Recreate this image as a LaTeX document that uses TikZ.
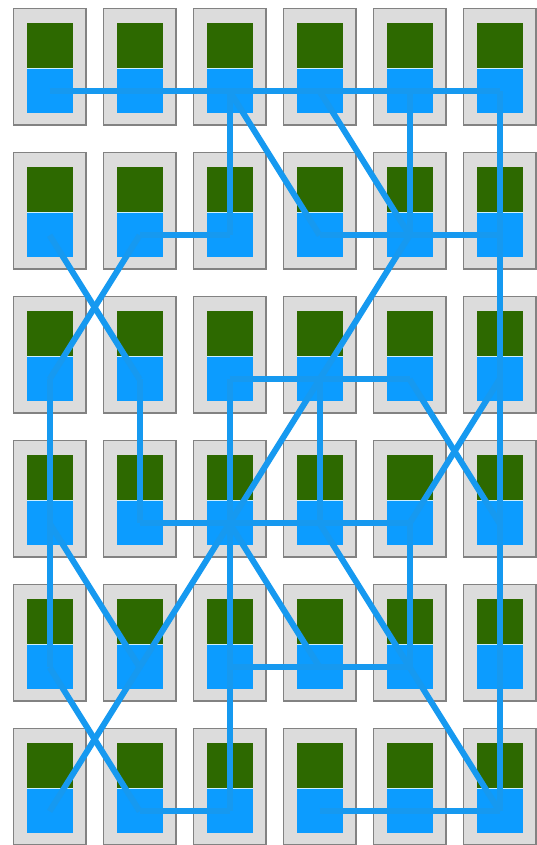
\documentclass[tikz,border=0pt]{standalone}
\usepackage{tikz}
\usepackage{xcolor}
\usetikzlibrary{positioning}

\definecolor{boxgrey}{RGB}{220,220,220}
\definecolor{boxedge}{RGB}{130,130,130}
\definecolor{leaf}{RGB}{45,105,0}
\definecolor{padblue}{RGB}{12,156,255}
\definecolor{wireblue}{RGB}{22,153,240}
\definecolor{seam}{RGB}{205,240,255}

\tikzset{
  pad/.style={fill=padblue, minimum width=1.38cm, minimum height=1.32cm, inner sep=0pt, outer sep=0pt},
  wire/.style={draw=wireblue, line width=0.18cm},
}

\begin{document}
\begin{tikzpicture}[x=0.03cm, y=-0.03cm]
  \useasboundingbox (0,0) rectangle (537,845);
  \fill[white] (0,0) rectangle (537,845);

  % === CELLS: grey frame, green top, blue pad below ===
  \foreach \r in {1,...,6} {
    \foreach \c in {1,...,6} {
      \pgfmathsetmacro{\xa}{13.3+(\c-1)*90}
      \pgfmathsetmacro{\ya}{8.3+(\r-1)*144}
      \filldraw[fill=boxgrey, draw=boxedge, line width=1.2pt] (\xa,\ya) rectangle ++(72.7,116.7);
      \fill[leaf] (\xa+13.3,\ya+15) rectangle ++(46,45);
      \fill[seam] (\xa+13.3,\ya+60) rectangle ++(46,1.2);
      \node[pad] (b\r\c) at (\xa+36.3,\ya+83) {};
    }
  }

  % === WIRES: row by row ===
  % row 1 and down to row 2
  \foreach \a/\b in {11/12, 12/13, 13/14, 14/15, 15/16, 13/23, 13/24, 14/25, 15/25, 16/26} {
    \draw[wire] (b\a.center) -- (b\b.center);
  }
  % row 2 and down to row 3
  \foreach \a/\b in {22/23, 24/25, 25/26, 21/32, 22/31, 25/34, 26/36} {
    \draw[wire] (b\a.center) -- (b\b.center);
  }
  % row 3 and down to row 4
  \foreach \a/\b in {33/34, 34/35, 31/41, 32/42, 33/43, 34/43, 34/44, 35/46, 36/45, 36/46} {
    \draw[wire] (b\a.center) -- (b\b.center);
  }
  % row 4 and down to row 5
  \foreach \a/\b in {42/43, 43/44, 44/45, 41/51, 41/52, 43/52, 43/53, 43/54, 44/55, 45/55, 46/56} {
    \draw[wire] (b\a.center) -- (b\b.center);
  }
  % row 5 and down to row 6
  \foreach \a/\b in {53/54, 54/55, 51/62, 52/61, 53/63, 55/66, 56/66} {
    \draw[wire] (b\a.center) -- (b\b.center);
  }
  % row 6
  \foreach \a/\b in {62/63, 64/65, 65/66} {
    \draw[wire] (b\a.center) -- (b\b.center);
  }
\end{tikzpicture}
\end{document}
